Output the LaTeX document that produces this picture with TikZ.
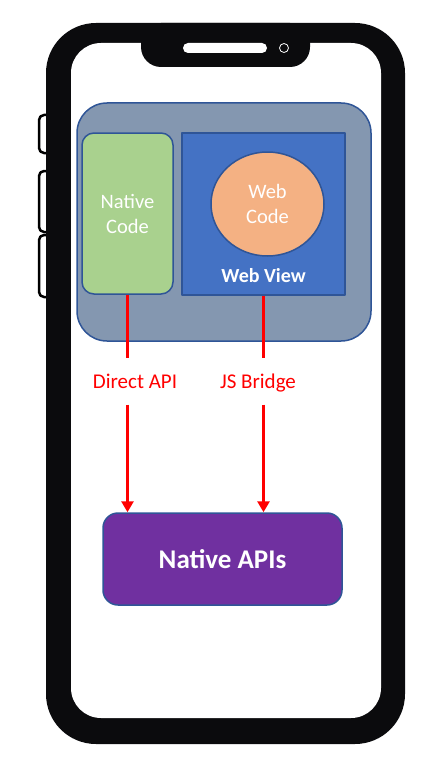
\documentclass[tikz,border=0pt]{standalone}
\usepackage{fontspec}
\setmainfont{Carlito}
\usetikzlibrary{arrows.meta,positioning,shapes.geometric}
\definecolor{phoneblack}{HTML}{0B0B0D}
\definecolor{shellgrey}{HTML}{8497B0}
\definecolor{edgeblue}{HTML}{2F5597}
\definecolor{nativegreen}{HTML}{A9D18E}
\definecolor{webblue}{HTML}{4472C4}
\definecolor{webpeach}{HTML}{F4B183}
\definecolor{apipurple}{HTML}{7030A0}
\definecolor{bridgered}{HTML}{FF0000}

\begin{document}
\begin{tikzpicture}[x=1pt, y=-1pt, line join=round, line cap=round,
    block/.style={draw=edgeblue, line width=1.5pt, inner sep=0pt, align=center,
      text=white, font=\fontsize{20.5}{25}\selectfont},
    wire/.style={draw=bridgered, line width=3pt, line cap=butt},
    tag/.style={text=bridgered, inner sep=0pt, text height=13pt, text depth=4pt,
      font=\fontsize{21}{24}\selectfont}]
  \useasboundingbox (0,0) rectangle (431,773);
  % side buttons
  \foreach \ya/\yb in {115/153, 171/232, 235/297}
    \draw[line width=2.5pt, fill=white, rounded corners=5pt] (39,\ya) rectangle (55,\yb);
  % phone body
  \fill[phoneblack, rounded corners=50pt] (46,23) rectangle (405,744);
  \fill[white, rounded corners=30pt] (71,43) rectangle (381,718);
  \fill[phoneblack, rounded corners=20pt] (141,23) rectangle (310,67);
  \fill[white, rounded corners=5pt] (183,43) rectangle (267,53);
  \draw[white, line width=0.8pt] (284,48) circle (4.5pt);

  \node[block, fill=shellgrey, rounded corners=30pt, minimum width=294pt, minimum height=238pt] (app) at (224,222) {};
  \node[block, fill=nativegreen, rounded corners=12pt, minimum width=91pt, minimum height=161pt] (nat) at (127.5,213.5) {Native\\Code};
  \node[block, fill=webblue, minimum width=163pt, minimum height=162pt] (view) at (263.5,214) {};
  \node[block, ellipse, fill=webpeach, minimum width=113pt, minimum height=104pt] (web) at (267.5,204) {Web\\Code};
  \node[text=white, font=\bfseries\fontsize{20}{24}\selectfont] (viewlbl) at (263.5,276) {Web View};
  \node[block, fill=apipurple, rounded corners=15pt, minimum width=239pt, minimum height=92pt,
    font=\bfseries\fontsize{27}{32}\selectfont] (api) at (222.5,559) {Native APIs};

  \node[tag] (direct) at (135,384) {Direct API};
  \node[tag] (bridge) at (258,384) {JS Bridge};
  \draw[wire, shorten >=17pt] (nat.south) -- (nat.south |- direct.north);
  \draw[wire, shorten >=17pt] (view.south) -- (view.south |- bridge.north);
  \draw[wire, -{Triangle[width=12pt,length=11pt]}, shorten <=12pt] (direct.south -| nat.south) -- (api.north -| nat.south);
  \draw[wire, -{Triangle[width=12pt,length=11pt]}, shorten <=12pt] (bridge.south -| view.south) -- (api.north -| view.south);
\end{tikzpicture}
\end{document}
